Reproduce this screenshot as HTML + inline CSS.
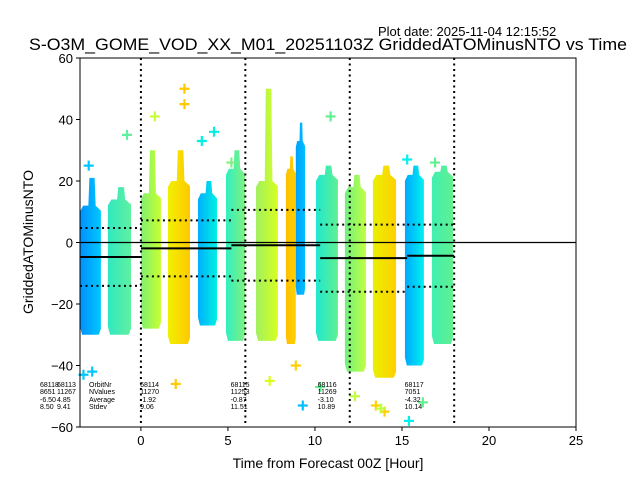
<!DOCTYPE html>
<html><head><meta charset="utf-8"><style>
body{margin:0;background:#fff;}
svg{display:block;font-family:"Liberation Sans","DejaVu Sans",sans-serif;}
</style></head><body>
<svg id="chart" width="640" height="480" xmlns="http://www.w3.org/2000/svg">
<defs id="defs"></defs>
<rect x="0" y="0" width="640" height="480" fill="#fff"/>
<text x="378" y="36" font-size="13">Plot date: 2025-11-04 12:15:52</text>
<text x="328" y="50" font-size="16.6" text-anchor="middle" textLength="598" lengthAdjust="spacingAndGlyphs">S-O3M_GOME_VOD_XX_M01_20251103Z GriddedATOMinusNTO vs Time</text>
<g id="plot"></g>
<text x="328" y="468" font-size="14" text-anchor="middle">Time from Forecast 00Z [Hour]</text>
<text x="33" y="242" font-size="14" text-anchor="middle" transform="rotate(-90 33 242)">GriddedATOMinusNTO</text>
</svg>
<script>
// data
const colStart=[-3.5,-1.9,0,1.55,3.28,4.89,6.61,8.33,8.9,10.06,11.72,13.33,15.17,16.72];
const colEnd=[-2.3,-0.57,1.15,2.82,4.37,5.98,7.87,8.9,9.43,11.32,12.93,14.66,16.26,17.93];
const colTop=[12,14,16,20,16,24,20,24,33,22,18,22,22,23];
const colPeak=[21,18,30,30,20,30,50,28,39,25,22,25,25,25];
const colBottom=[-30,-30,-28,-33,-27,-32,-32,-33,-17,-32,-42,-44,-40,-33];
const colColorA=["#0090ff","#30e8c0","#80f070","#f0f000","#00b0ff","#30f0c0","#a0f060","#ffc000","#00a0ff","#20e8d0","#70f080","#e8f000","#00a8ff","#40f0b0"];
const colColorB=["#00c8ff","#60f0a0","#c8ff30","#ffc800","#00f0e0","#80f080","#d8ff20","#ffd000","#00c0ff","#60f090","#c0ff40","#ffd000","#00f0f0","#60f090"];
const outX=[-3,-2.8,-0.8,0.8,2.5,2.5,3.5,4.2,5.2,7.4,8.9,9.3,10.9,12.3,13.5,14,15.3,16.2,16.9,-3.3,2,10.3,13.8,15.4];
const outY=[25,-42,35,41,50,45,33,36,26,-45,-40,-53,41,-50,-53,-55,27,-52,26,-43,-46,-47,-54,-58];
const outC=[0,0,1,2,3,3,4,4,5,6,7,8,9,10,11,11,12,13,13,0,3,9,10,12];
const gridHours=[0,6,12,18];
const meanStart=[-3.5,0,5.2,10.3,15.3];
const meanEnd=[0,5.2,10.3,15.3,18];
const meanVal=[-4.7,-1.9,-0.9,-5.1,-4.3];
const sdVal=[9.4,9.1,11.5,10.9,10.1];
const xTicks=[0,5,10,15,20,25];
const yTicks=[-60,-40,-20,0,20,40,60];
const annX=[-1.5,0.3,5.5,10.5,15.5];
const annOrbit=["68113","68114","68115","68116","68117"];
const annN=["11267","11270","11253","11269","7051"];
const annAvg=["4.85","-1.92","-0.87","-3.10","-4.32"];
const annSd=["9.41","9.06","11.51","10.89","10.14"];

const L=80,R=576,T=58,B=427,XMIN=-3.5,XMAX=25,YMIN=-60,YMAX=60;
const xs=h=>L+(h-XMIN)/(XMAX-XMIN)*(R-L);
const ys=v=>B-(v-YMIN)/(YMAX-YMIN)*(B-T);
const NS="http://www.w3.org/2000/svg";
const plot=document.getElementById('plot');
const defs=document.getElementById('defs');
function mk(tag,attrs,parent){const e=document.createElementNS(NS,tag);for(const k in attrs)e.setAttribute(k,attrs[k]);(parent||plot).appendChild(e);return e;}

colStart.forEach((s,i)=>{
  const g=mk('linearGradient',{id:'g'+i,x1:0,x2:1,y1:0,y2:0},defs);
  mk('stop',{offset:0,'stop-color':colColorA[i]},g);
  mk('stop',{offset:1,'stop-color':colColorB[i]},g);
  const x0=xs(s),x1=xs(colEnd[i]),w=x1-x0;
  const yt=ys(colTop[i]),yp=ys(colPeak[i]),yb=ys(colBottom[i]);
  const pts=[[x0+w*0.1,yb],[x0,yb-8],[x0,yt+6],[x0+w*0.15,yt],[x0+w*0.4,yt],[x0+w*0.45,yp],[x0+w*0.7,yp],[x0+w*0.75,yt],[x1,yt+5],[x1,yb-6],[x0+w*0.9,yb]];
  const p=mk('polygon',{points:pts.map(q=>q.join(',')).join(' '),fill:'url(#g'+i+')'});
  
  
});
outX.forEach((h,i)=>{
  const cx=xs(h),cy=ys(outY[i]);
  const c=colColorB[outC[i]];
  const g=mk('path',{d:`M${cx-5} ${cy}H${cx+5}M${cx} ${cy-5}V${cy+5}`,stroke:c,'stroke-width':2.2});
  
  
});
const z=mk('line',{x1:L,x2:R,y1:ys(0),y2:ys(0),stroke:'#000','stroke-width':1.2});


gridHours.forEach(h=>{
  const l=mk('line',{x1:xs(h),x2:xs(h),y1:T,y2:B,stroke:'#000','stroke-width':2,'stroke-dasharray':'2,3.5'});
  
  
});
meanStart.forEach((s,i)=>{
  const x0=xs(s),x1=xs(meanEnd[i]);
  const m=mk('line',{x1:x0,x2:x1,y1:ys(meanVal[i]),y2:ys(meanVal[i]),stroke:'#000','stroke-width':2});
  
  
  [1,-1].forEach(sg=>{
    const v=meanVal[i]+sg*sdVal[i];
    const d=mk('line',{x1:x0,x2:x1,y1:ys(v),y2:ys(v),stroke:'#000','stroke-width':2,'stroke-dasharray':'2,3.5'});
    
    
  });
});
function txt(x,y,s,size,anchor,name){const t=mk('text',{x:x,y:y,'font-size':size,'text-anchor':anchor||'start'});t.textContent=s;return t;}
const rowsY=[387,394,402,409];
["68118","8651","-6.50","8.50"].forEach((s,j)=>txt(40,rowsY[j],s,7,'start','annotation-prev'));
["OrbitNr","NValues","Average","Stdev"].forEach((s,j)=>txt(89,rowsY[j],s,7,'start','annotation-label'));
annX.forEach((h,i)=>{
  const x=i===0?57:xs(h)-6;
  [annOrbit[i],annN[i],annAvg[i],annSd[i]].forEach((s,j)=>txt(x,rowsY[j],s,7,'start','annotation-value'));
});
const f=mk('rect',{x:L,y:T,width:R-L,height:B-T,fill:'none',stroke:'#000','stroke-width':1});


xTicks.forEach(t=>{
  const x=xs(t);
  const l=mk('line',{x1:x,x2:x,y1:B,y2:B+4,stroke:'#000'});
  
  
  txt(x,B+18,String(t),13,'middle','x-tick-label');
});
yTicks.forEach(t=>{
  const y=ys(t);
  const l=mk('line',{x1:L-4,x2:L,y1:y,y2:y,stroke:'#000'});
  
  
  txt(L-7,y+5,String(t).replace('-','\u2212'),13,'end','y-tick-label');
});
</script>
</body></html>
